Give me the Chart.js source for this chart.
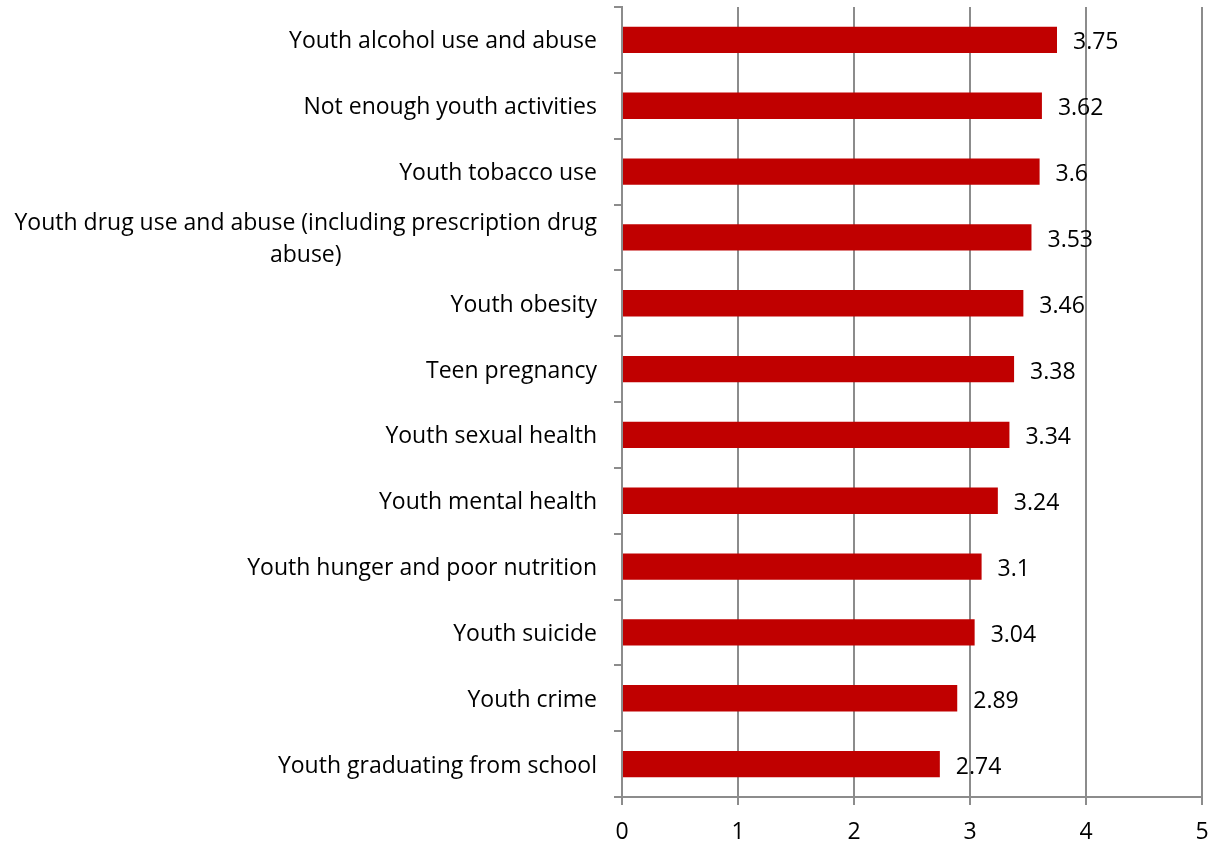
<!DOCTYPE html>
<html lang="en">
<head>
    <meta charset="UTF-8">
    <title>Youth issues</title>
    <script src="https://cdn.jsdelivr.net/npm/chart.js"></script>
    <style>
        html, body { margin: 0; padding: 0; background: #fff; }
        #wrap { width: 1224px; height: 846px; }
    </style>
</head>
<body>
    <div id="wrap"><canvas id="issuesChart"></canvas></div>

    <script>
        const categories = [
            'Youth alcohol use and abuse',
            'Not enough youth activities',
            'Youth tobacco use',
            ['Youth drug use and abuse (including prescription drug', 'abuse)'],
            'Youth obesity',
            'Teen pregnancy',
            'Youth sexual health',
            'Youth mental health',
            'Youth hunger and poor nutrition',
            'Youth suicide',
            'Youth crime',
            'Youth graduating from school'
        ];
        const scores = [3.75, 3.62, 3.6, 3.53, 3.46, 3.38, 3.34, 3.24, 3.1, 3.04, 2.89, 2.74];
        const xTicks = [0, 1, 2, 3, 4, 5];

        const FONT = '"Open Sans"';
        const FONT_SIZE = 23;
        const gridGrey = '#8c8c8c';

        // category labels: block right-aligned, lines centred inside the block
        const categoryLabels = {
            id: 'categoryLabels',
            afterDraw(chart) {
                const y = chart.scales.y;
                const ctx = chart.ctx;
                ctx.save();
                ctx.font = FONT_SIZE + 'px ' + FONT;
                ctx.fillStyle = '#000';
                ctx.textAlign = 'center';
                ctx.textBaseline = 'middle';
                const right = y.right - 25;
                const lineH = 32;
                categories.forEach((lab, i) => {
                    const lines = Array.isArray(lab) ? lab : [lab];
                    const w = Math.max(...lines.map(l => ctx.measureText(l).width));
                    const cx = right - w / 2;
                    const cy = y.getPixelForValue(i) + 2;
                    const top = cy - (lines.length - 1) * lineH / 2;
                    lines.forEach((l, j) => ctx.fillText(l, cx, top + j * lineH));
                });
                ctx.restore();
            }
        };

        // value text to the right of each bar
        const valueLabels = {
            id: 'valueLabels',
            afterDatasetsDraw(chart) {
                const ctx = chart.ctx;
                const meta = chart.getDatasetMeta(0);
                ctx.save();
                ctx.font = FONT_SIZE + 'px ' + FONT;
                ctx.fillStyle = '#000';
                ctx.textAlign = 'left';
                ctx.textBaseline = 'middle';
                meta.data.forEach((bar, i) => {
                    ctx.fillText(String(scores[i]), bar.x + 16, bar.y + 3);
                });
                ctx.restore();
            }
        };

        new Chart(document.getElementById('issuesChart'), {
            type: 'bar',
            data: {
                labels: categories,
                datasets: [{
                    data: scores,
                    backgroundColor: '#c00000',
                    borderWidth: 0,
                    barPercentage: 0.4,
                    categoryPercentage: 1
                }]
            },
            options: {
                indexAxis: 'y',
                responsive: true,
                maintainAspectRatio: false,
                animation: false,
                layout: { padding: { top: 7, right: 22, left: 0, bottom: 0 } },
                plugins: {
                    legend: { display: false },
                    tooltip: { enabled: false }
                },
                scales: {
                    x: {
                        min: 0,
                        max: 5,
                        afterBuildTicks: s => { s.ticks = xTicks.map(v => ({ value: v })); },
                        afterFit: s => { s.height = 49; },
                        grid: {
                            color: gridGrey,
                            lineWidth: 2,
                            drawTicks: true,
                            tickLength: 8
                        },
                        border: { display: true, color: gridGrey, width: 2 },
                        ticks: {
                            color: '#000',
                            padding: 14,
                            font: { family: 'Open Sans', size: FONT_SIZE }
                        }
                    },
                    y: {
                        afterFit: s => { s.width = 622; },
                        grid: {
                            offset: true,
                            drawOnChartArea: false,
                            drawTicks: true,
                            tickLength: 8,
                            color: gridGrey,
                            lineWidth: 2
                        },
                        border: { display: true, color: gridGrey, width: 2 },
                        ticks: { display: false }
                    }
                }
            },
            plugins: [categoryLabels, valueLabels]
        });
    </script>
</body>
</html>
